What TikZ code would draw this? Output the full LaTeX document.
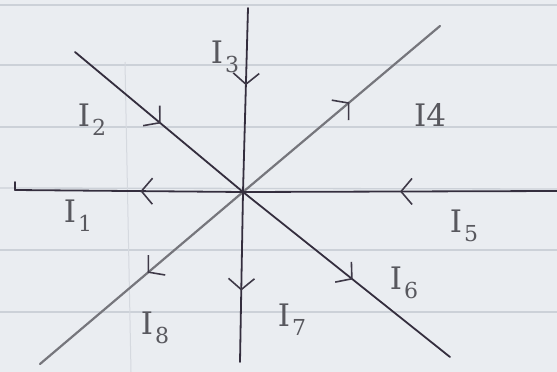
\documentclass[tikz,border=0pt]{standalone}
\usepackage{fontspec}
\setmainfont{DejaVu Serif}
\usetikzlibrary{arrows.meta,decorations.markings}
\definecolor{paper}{RGB}{234,237,241}
\definecolor{rulecol}{RGB}{204,209,216}
\definecolor{ink}{RGB}{52,46,62}
\definecolor{pencil}{RGB}{118,118,124}
\definecolor{labelgrey}{RGB}{88,88,94}
\newcommand\Ilab[1]{I\kern2pt\raisebox{-9pt}{\fontsize{22}{22}\selectfont #1}}
\tikzset{
  wire/.style={draw=ink,line width=1.8pt,line cap=round},
  pwire/.style={draw=pencil,line width=2.2pt,line cap=round},
  chev/.style={decoration={markings,mark=at position #1 with {\arrow{Straight Barb[length=11pt,width=26pt,line width=1.6pt,color=ink!85!pencil]}}},postaction={decorate}},
  lbl/.style={text=labelgrey,font=\fontsize{31}{31}\selectfont,inner sep=0pt},
  ruled/.style={draw=rulecol,line width=1.3pt},
}
\begin{document}
\begin{tikzpicture}[x=1pt,y=-1pt]
\useasboundingbox (0,0) rectangle (557,372);
\fill[paper] (0,0) rectangle (557,372);
% ruled paper
\foreach \yy in {5,65,127,250,312} \draw[ruled] (0,\yy) -- (557,\yy);
\draw[ruled] (0,188) -- (557,189);
\draw[draw=rulecol!70!paper,line width=1pt] (125,62) -- (131,372);
% junction and ends
\coordinate (c) at (243,192);
\coordinate (L) at (15,190);
\coordinate (R) at (557,191);
\coordinate (T) at (248,8);
\coordinate (B) at (240,362);
\coordinate (P2) at (75,52);
\coordinate (P4) at (440,26);
\coordinate (P6) at (450,357);
\coordinate (P8) at (40,364);
\coordinate (Lh) at (15,182);
% wires
\draw[pwire,chev=0.54] (c) -- (P4);
\draw[pwire,chev=0.47] (c) -- (P8);
\draw[wire,chev=0.45] (c) -- (L);
\draw[wire] (L) -- (Lh);
\draw[wire,chev=0.5] (R) -- (c);
\draw[wire,chev=0.42] (T) -- (c);
\draw[wire,chev=0.58] (c) -- (B);
\draw[wire,chev=0.51] (P2) -- (c);
\draw[wire,chev=0.53] (c) -- (P6);
% labels
\node[lbl] (i1) at (78,216) {\Ilab{1}};
\node[lbl] (i2) at (92,120) {\Ilab{2}};
\node[lbl] (i3) at (225,57) {\Ilab{3}};
\node[lbl] (i4) at (430,115) {I4};
\node[lbl] (i5) at (464,226) {\Ilab{5}};
\node[lbl] (i6) at (404,283) {\Ilab{6}};
\node[lbl] (i7) at (292,320) {\Ilab{7}};
\node[lbl] (i8) at (155,328) {\Ilab{8}};
\end{tikzpicture}
\end{document}
